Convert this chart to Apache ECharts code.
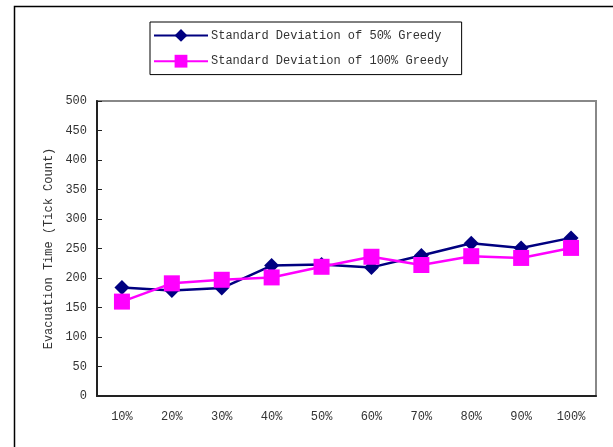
<!DOCTYPE html>
<html>
<head>
<meta charset="utf-8">
<script src="https://cdn.jsdelivr.net/npm/echarts@6/dist/echarts.min.js"></script>
<style>
html,body{margin:0;padding:0;background:#fff;}
#chart{width:613px;height:447px;}
</style>
</head>
<body>
<div id="chart"></div>
<script>
const categories = ['10%','20%','30%','40%','50%','60%','70%','80%','90%','100%'];
const greedy50 = [184,179,183,221,223,218,238,259,251,268];
const greedy100 = [160,191,197,201,219,236,222,237,234,251];
const yTicks = [0,50,100,150,200,250,300,350,400,450,500];

const FONT = '"Liberation Mono", "DejaVu Sans Mono", monospace';
const chart = echarts.init(document.getElementById('chart'), null, {renderer:'canvas'});
chart.setOption({
  animation:false,
  backgroundColor:'#fff',
  textStyle:{fontFamily:FONT},
  graphic:[{
    type:'rect', left:12, top:4, silent:true, z:-10,
    shape:{width:700, height:500},
    style:{fill:'none', stroke:'#000', lineWidth:1.5}
  }],
  grid:{left:97, right:17, top:101, bottom:51, show:true, borderColor:'#888', borderWidth:2, backgroundColor:'transparent'},
  legend:{
    orient:'vertical', left:150, top:22,
    itemWidth:54, itemHeight:16, itemGap:13,
    padding:[7,13,7,3],
    borderColor:'#000', borderWidth:1,
    textStyle:{fontFamily:FONT, fontSize:12, color:'#333', padding:[0,0,0,-2]},
    data:['Standard Deviation of 50% Greedy','Standard Deviation of 100% Greedy']
  },
  xAxis:{
    type:'category', data:categories, boundaryGap:true,
    axisLine:{lineStyle:{color:'#222', width:2}},
    axisTick:{inside:true, length:5, lineStyle:{color:'#222', width:1}},
    axisLabel:{fontFamily:FONT, fontSize:12, color:'#333', margin:15},
    splitLine:{show:false}
  },
  yAxis:{
    type:'value', min:0, max:500, interval:50,
    name:'Evacuation Time (Tick Count)', nameLocation:'middle', nameGap:42,
    nameTextStyle:{fontFamily:FONT, fontSize:12, color:'#333'},
    axisLine:{show:true, lineStyle:{color:'#222', width:2}},
    axisTick:{show:true, inside:true, length:5, lineStyle:{color:'#222', width:1}},
    axisLabel:{fontFamily:FONT, fontSize:12, color:'#333', margin:10,
      formatter:function(v){return yTicks.indexOf(v)>=0 ? String(v) : '';}},
    splitLine:{show:false}
  },
  series:[
    {name:'Standard Deviation of 50% Greedy', type:'line', data:greedy50,
     symbol:'diamond', symbolSize:15, color:'#000080',
     lineStyle:{color:'#000080', width:2.5}, itemStyle:{color:'#000080'}, z:2},
    {name:'Standard Deviation of 100% Greedy', type:'line', data:greedy100,
     symbol:'rect', symbolSize:16, color:'#ff00ff',
     lineStyle:{color:'#ff00ff', width:2.5}, itemStyle:{color:'#ff00ff'}, z:3}
  ]
});
</script>
</body>
</html>
